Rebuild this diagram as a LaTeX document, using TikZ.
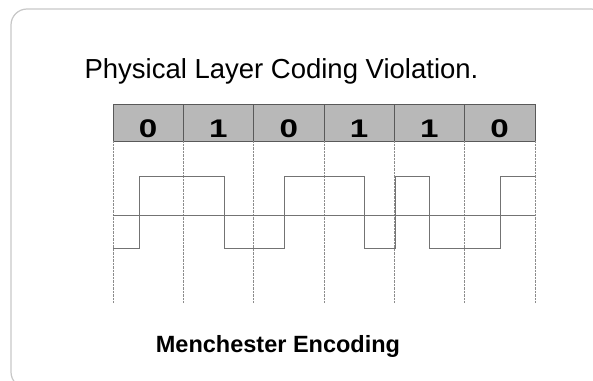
\documentclass[tikz,border=0pt]{standalone}
\usepackage{fontspec}
\setmainfont{Liberation Sans}
\newfontfamily\cellfont[FakeStretch=1.3]{Liberation Sans Bold}
\usetikzlibrary{positioning}
\begin{document}
\begin{tikzpicture}[x=1pt,y=-1pt,
    bit/.style={draw=black!65,fill=black!28,outer sep=0pt,inner sep=0pt,
      minimum width=70.3pt,minimum height=37pt,text height=29pt,text depth=0pt,
      font=\cellfont\fontsize{25.5}{25.5}\selectfont},
    grid/.style={densely dotted,black!45},
    wave/.style={black!55,line width=0.9pt}]
\useasboundingbox (0,0) rectangle (593,380);
\draw[black!22,line width=1.2pt,rounded corners=16pt](11,9) rectangle (607,388);
\node[anchor=base west,font=\fontsize{27.5}{27.5}\selectfont](title) at (81,78){Physical Layer Coding Violation.};
% bit cells
\node[bit,anchor=north west](b1) at (113,104){0};
\node[bit,right=0pt of b1](b2){1};
\node[bit,right=0pt of b2](b3){0};
\node[bit,right=0pt of b3](b4){1};
\node[bit,right=0pt of b4](b5){1};
\node[bit,right=0pt of b5](b6){0};
\coordinate (floor) at (0,303);
\draw[grid](b1.south west)--(b1.south west |- floor);
\foreach \b in {b1,b2,b3,b4,b5,b6}
  \draw[grid](\b.south east)--(\b.south east |- floor);
% signal
\draw[wave](113,215)--(535,215);
\draw[wave](113,248)--(139,248)--(139,176)--(224,176)--(224,248)--(284,248)--(284,176)
  --(364,176)--(364,248)--(395,248)--(395,176)--(429,176)--(429,248)--(500,248)
  --(500,176)--(535,176);
\node[anchor=base,font=\fontsize{23.5}{23.5}\selectfont\bfseries](caption) at (278,352){Menchester Encoding};
\end{tikzpicture}
\end{document}
